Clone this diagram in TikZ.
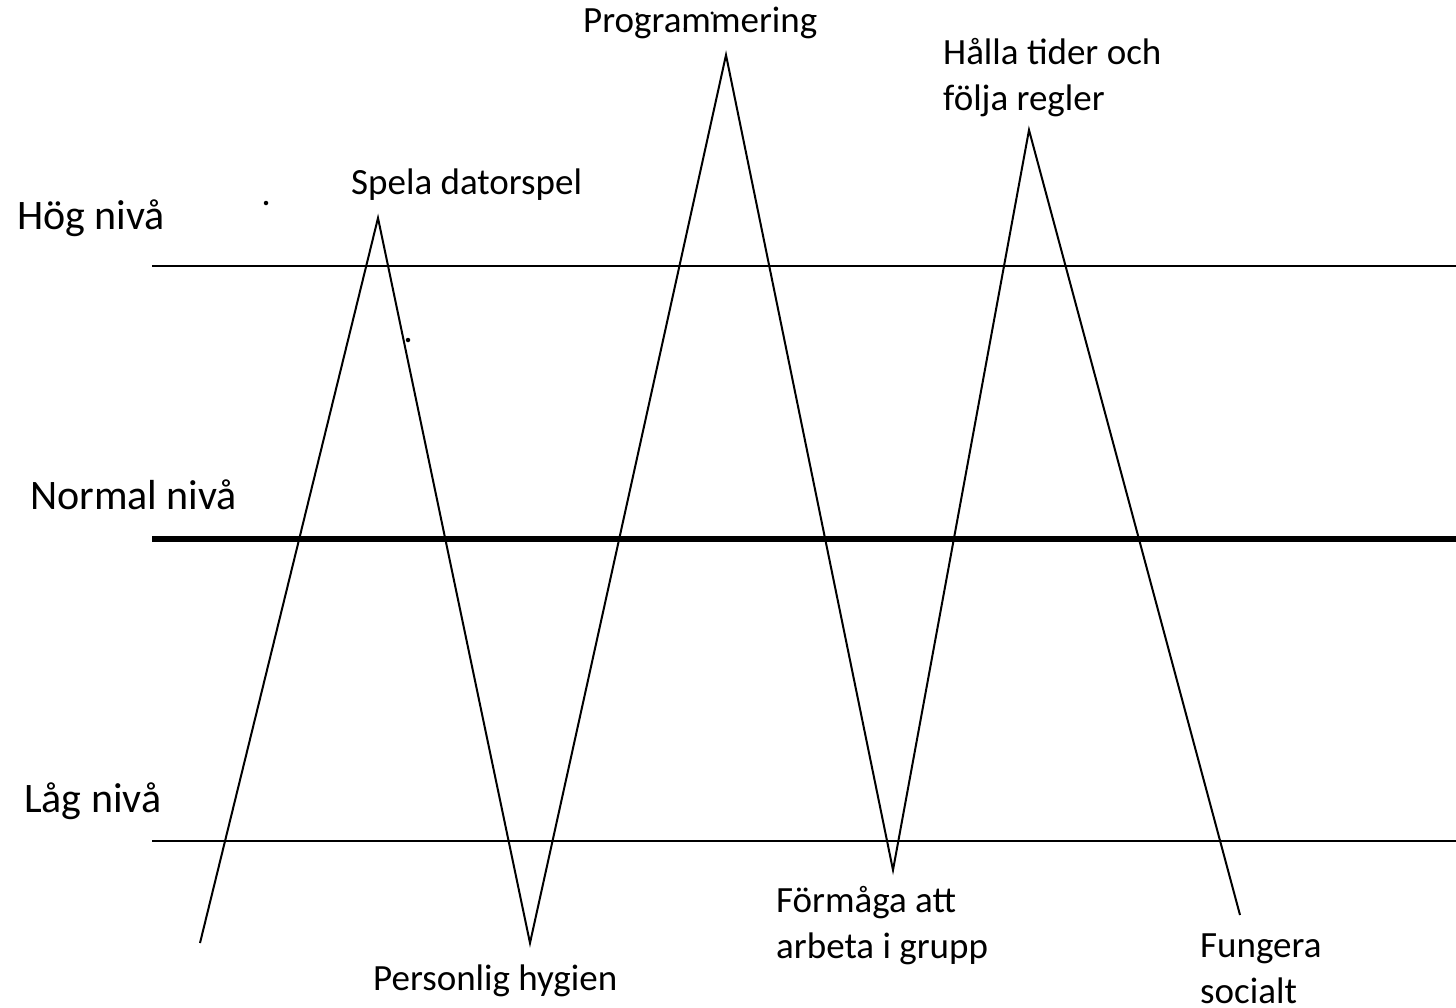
\documentclass[tikz,border=0pt]{standalone}
\usepackage{fontspec}
\setmainfont{Carlito}
\begin{document}
\begin{tikzpicture}[x=1pt,y=-1pt,
  lvl/.style={anchor=base west,inner sep=0pt,font=\fontsize{42}{50}\selectfont},
  lab/.style={anchor=base west,inner sep=0pt,align=left,font=\fontsize{37}{46}\selectfont},
  thinline/.style={line width=2.4pt},
  thickline/.style={line width=5.5pt},
  zig/.style={line width=2pt,line join=miter},
  dotmark/.style={circle,fill=black,inner sep=0pt,minimum size=4.5pt}]
\useasboundingbox (0,0) rectangle (1456,1007);
% level lines
\coordinate (h1) at (152,266); \coordinate (h2) at (1456,266);
\coordinate (n1) at (152,539); \coordinate (n2) at (1456,539);
\coordinate (l1) at (152,841); \coordinate (l2) at (1456,841);
\draw[thinline] (h1) -- (h2);
\draw[thickline] (n1) -- (n2);
\draw[thinline] (l1) -- (l2);
% zigzag
\coordinate (p0) at (200,943);
\coordinate (p1) at (378,218);
\coordinate (p2) at (530,943);
\coordinate (p3) at (726,55);
\coordinate (p4) at (893,870);
\coordinate (p5) at (1029,130);
\coordinate (p6) at (1240,915);
\draw[zig] (p0) -- (p1) -- (p2) -- (p3) -- (p4) -- (p5) -- (p6);
% level labels
\node[lvl] (hog) at (17,229) {Hög nivå};
\node[lvl] (norm) at (30,509) {Normal nivå};
\node[lvl] (lag) at (24,812) {Låg nivå};
% peak labels (multi-line nodes anchored at the last line's baseline)
\node[lab] (spela) at (351,194) {Spela datorspel};
\node[lab] (prog) at (583,32) {Programmering};
\node[lab] (halla) at (943,110) {Hålla tider och\\följa regler};
\node[lab] (form) at (776,958) {Förmåga att\\arbeta i grupp};
\node[lab] (pers) at (373,990) {Personlig hygien};
\node[lab] (fung) at (1200,1003) {Fungera\\socialt};
% stray dots
\node[dotmark] (d1) at (266,203) {};
\node[dotmark] (d2) at (408,340) {};
\node[dotmark,minimum size=3.5pt] (d3) at (637,14) {};
\node[dotmark,minimum size=3.5pt] (d4) at (685,29) {};
\node[dotmark,minimum size=3.5pt] (d5) at (712,13) {};
\end{tikzpicture}
\end{document}
